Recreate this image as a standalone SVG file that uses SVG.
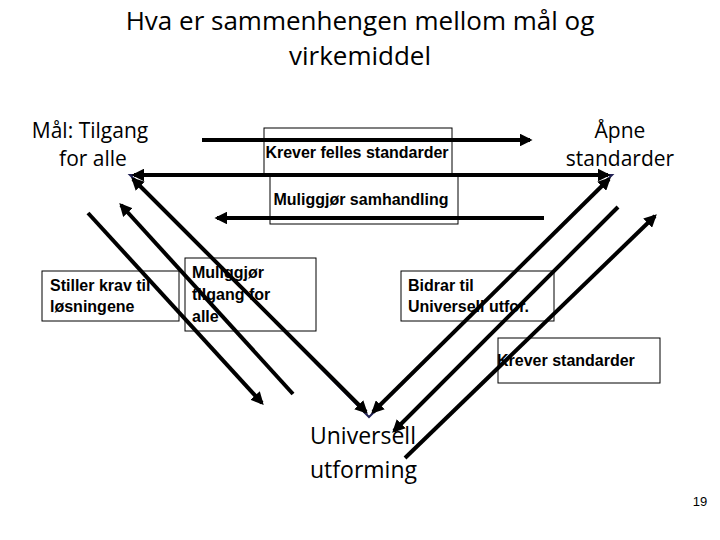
<svg xmlns="http://www.w3.org/2000/svg" width="720" height="540" viewBox="0 0 720 540">
<style>
.t{font-family:"Open Sans","Liberation Sans",sans-serif;fill:#000}
.b{font-family:"Liberation Sans",Arial,sans-serif;font-weight:bold;font-size:16px;fill:#000}
.box{fill:none;stroke:#000;stroke-width:1}
.a{stroke:#000;stroke-width:4;fill:none}
</style>
<defs>
<marker id="h" viewBox="0 0 10 10" refX="8" refY="5" markerWidth="3.2" markerHeight="3.2" orient="auto-start-reverse"><path d="M0,0L10,5L0,10z" fill="#000"/></marker>
</defs>
<rect width="720" height="540" fill="#fff"/>
<g id="title"><text class="t" x="360" y="30" font-size="26" text-anchor="middle">Hva er sammenhengen mellom mål og</text>
<text class="t" x="360" y="65" font-size="26" text-anchor="middle">virkemiddel</text></g>
<g id="n-mal"><text class="t" x="90" y="138" font-size="21" text-anchor="middle">Mål: Tilgang</text><text class="t" x="93" y="166" font-size="21" text-anchor="middle">for alle</text></g>
<g id="n-apne"><text class="t" x="620" y="138" font-size="21" text-anchor="middle">Åpne</text><text class="t" x="620" y="166" font-size="21" text-anchor="middle">standarder</text></g>
<g id="n-univ"><text class="t" x="310" y="444" font-size="23">Universell</text><text class="t" x="310" y="478" font-size="23">utforming</text></g>
<g id="connectors">
<path d="M130,175L612,175L369,417Z" fill="none" stroke="#222255" stroke-width="2"/>
<line class="a" x1="134" y1="175" x2="608" y2="175" marker-start="url(#h)" marker-end="url(#h)"/>
<line class="a" x1="133" y1="179" x2="366" y2="412" marker-start="url(#h)" marker-end="url(#h)"/>
<line class="a" x1="609" y1="179" x2="373" y2="412" marker-start="url(#h)" marker-end="url(#h)"/>
<line class="a" x1="202" y1="140" x2="530" y2="140" marker-end="url(#h)"/>
<line class="a" x1="544" y1="218" x2="217" y2="218" marker-end="url(#h)"/>
<line class="a" x1="88" y1="213" x2="262" y2="403" marker-end="url(#h)"/>
<line class="a" x1="293" y1="394" x2="121" y2="205" marker-end="url(#h)"/>
<line class="a" x1="618" y1="207" x2="394" y2="431" marker-end="url(#h)"/>
<line class="a" x1="405" y1="458" x2="655" y2="216" marker-end="url(#h)"/>
</g>
<g id="l-krever-felles"><rect class="box" x="264" y="128" width="188" height="47"/><text class="b" x="357" y="158" text-anchor="middle">Krever felles standarder</text></g>
<g id="l-samhandling"><rect class="box" x="270" y="175" width="188" height="49"/><text class="b" x="361" y="205" text-anchor="middle">Muliggjør samhandling</text></g>
<g id="l-stiller"><rect class="box" x="42" y="271" width="137" height="50"/><text class="b" x="50" y="291">Stiller krav til</text><text class="b" x="50" y="312">løsningene</text></g>
<g id="l-muliggjor"><rect class="box" x="185" y="258" width="131" height="73"/><text class="b" x="192" y="278">Muliggjør</text><text class="b" x="192" y="300">tilgang for</text><text class="b" x="192" y="322">alle</text></g>
<g id="l-bidrar"><rect class="box" x="401" y="271" width="153" height="50"/><text class="b" x="408" y="291">Bidrar til</text><text class="b" x="408" y="312">Universell utfor.</text></g>
<g id="l-krever-std"><rect class="box" x="498" y="338" width="162" height="45"/><text class="b" x="497" y="366">Krever  standarder</text></g>
<text x="700" y="506" font-family="Liberation Sans,sans-serif" font-size="13" text-anchor="middle">19</text>
</svg>
